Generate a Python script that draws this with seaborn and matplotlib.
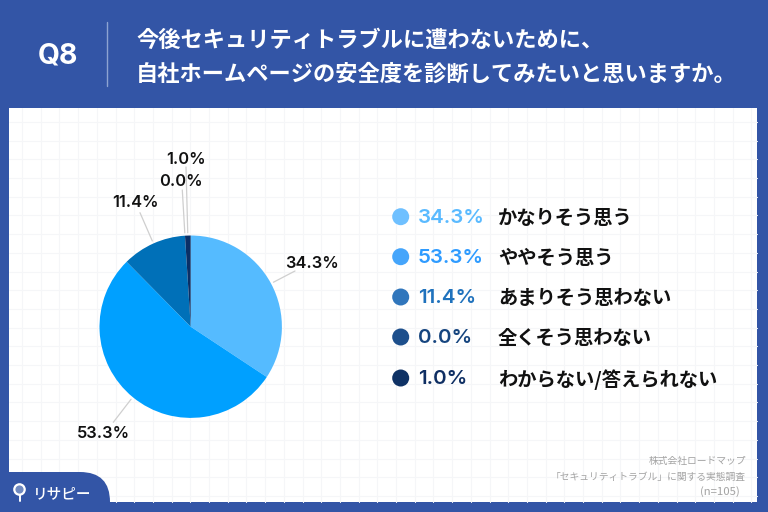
import numpy as np
import pandas as pd
import matplotlib
matplotlib.use("Agg")
import matplotlib.pyplot as plt
from matplotlib.patches import Rectangle, Circle, FancyBboxPatch
import seaborn as sns

# Datos
categories = ["かなりそう思う", "ややそう思う", "あまりそう思わない", "全くそう思わない", "わからない/答えられない"]
values = [34.3, 53.3, 11.4, 0.0, 1.0]
pct_labels = ["34.3%", "53.3%", "11.4%", "0.0%", "1.0%"]

# Colores
HEADER_BLUE = "#3355A6"
pie_colors = ["#55BBFF", "#00A0FF", "#0070B8", "#1D4F8C", "#0A2F66"]
dot_colors = ["#6FC0FF", "#45A5FB", "#3076BC", "#1D4F8C", "#0F3265"]
pct_colors = ["#5ABAFF", "#2E9BFF", "#1F72BD", "#16457F", "#0F2F63"]

FW, FH = 768, 512
CX, CY, R = 190.7, 326.7, 91.2

sns.set_theme(style="white")
plt.rcParams["font.family"] = ["Noto Sans CJK JP", "DejaVu Sans"]

fig = plt.figure(figsize=(7.68, 5.12), dpi=100, facecolor=HEADER_BLUE)

# Capa en pixeles para panel, textos y leyenda
ax = fig.add_axes([0, 0, 1, 1])
ax.set_xlim(0, FW)
ax.set_ylim(FH, 0)
ax.axis("off")

ax.add_patch(Rectangle((9, 108), 748, 394, fc="white", ec="none", zorder=0))
for x in np.arange(22, 757, 18.7):
    ax.plot([x, x], [108, 502], color="#F5F6F8", lw=0.8, zorder=1)
for y in np.arange(122, 502, 18.7):
    ax.plot([9, 757], [y, y], color="#F5F6F8", lw=0.8, zorder=1)

# Cabecera
ax.text(58, 56, "Q8", color="white", fontsize=20.5, fontweight="bold", family="Inter",
        ha="center", va="center")
ax.plot([107, 107], [22, 86], color="#8DA3D2", lw=1)
ax.text(136, 40, "今後セキュリティトラブルに遭わないために、", color="white",
        fontsize=16, fontweight="bold", va="center")
ax.text(136, 74, "自社ホームページの安全度を診断してみたいと思いますか。", color="white",
        fontsize=16, fontweight="bold", va="center")

# Pie
pie_ax = fig.add_axes([(CX - R) / FW, 1 - (CY + R) / FH, 2 * R / FW, 2 * R / FH])
wedges, _ = pie_ax.pie(values, colors=pie_colors, startangle=90, counterclock=False,
                       radius=1, wedgeprops={"linewidth": 0})
pie_ax.set_xlim(-1, 1)
pie_ax.set_ylim(-1, 1)

# Etiquetas del pie con linea guia
label_pos = [(311.7, 263.5), (103, 434), (135, 202.5), (180.7, 181), (186, 159)]
line_end = [(295, 271), (113.3, 422.3), (140, 212.7), (182.3, 190), (186, 167)]
for w, txt, pos, end in zip(wedges, pct_labels, label_pos, line_end):
    ang = np.deg2rad((w.theta1 + w.theta2) / 2)
    x0 = CX + R * 1.03 * np.cos(ang)
    y0 = CY - R * 1.03 * np.sin(ang)
    ax.plot([x0, end[0]], [y0, end[1]], color="#CFCFCF", lw=0.9, zorder=2)
    ax.text(pos[0], pos[1], txt, color="#111111", fontsize=11.8, fontweight="semibold",
            family="Inter", ha="center", va="center", zorder=5)

# Leyenda
legend_y = [216.7, 256.7, 297, 337, 378]
legend_df = pd.DataFrame({"x": [400.7] * 5, "y": legend_y, "cat": categories})
sns.scatterplot(data=legend_df, x="x", y="y", hue="cat", palette=dot_colors, s=150,
                linewidth=0, legend=False, ax=ax, zorder=4)
ax.set_xlim(0, FW)
ax.set_ylim(FH, 0)
for y, txt, col, cat in zip(legend_y, pct_labels, pct_colors, categories):
    ax.text(418, y + 1, txt, color=col, fontsize=14.8, fontweight="semibold", family="Inter",
            va="center")
    ax.text(498, y + 1.5, cat, color="#111111", fontsize=13.9, fontweight="bold", va="center")

# Pie de pagina
footer_color = "#A3A3A3"
ax.text(746, 461, "株式会社ロードマップ", color=footer_color, fontsize=7.05, ha="right", va="center")
ax.text(746, 477, "「セキュリティトラブル」に関する実態調査", color=footer_color, fontsize=7.05,
        ha="right", va="center")
ax.text(740, 492, "(n=105)", color=footer_color, fontsize=8.2, ha="right", va="center")

# Logo
ax.add_patch(FancyBboxPatch((-30, 472), 140, 60, boxstyle="round,pad=0,rounding_size=30",
                            fc=HEADER_BLUE, ec="none", zorder=3))
ax.add_patch(Rectangle((0, 472), 9, 40, fc=HEADER_BLUE, ec="none", zorder=3))
ax.add_patch(Circle((19.5, 489.5), 5.2, fc="#6F89C0", ec="white", lw=1.6, zorder=4))
ax.plot([19.5, 19.5], [494.7, 500.7], color="white", lw=1.4, zorder=4)
ax.text(33, 494, "リサピー", color="white", fontsize=10.5, fontweight="medium", va="center", zorder=4)

fig.savefig("out.png", dpi=100, facecolor=HEADER_BLUE)
